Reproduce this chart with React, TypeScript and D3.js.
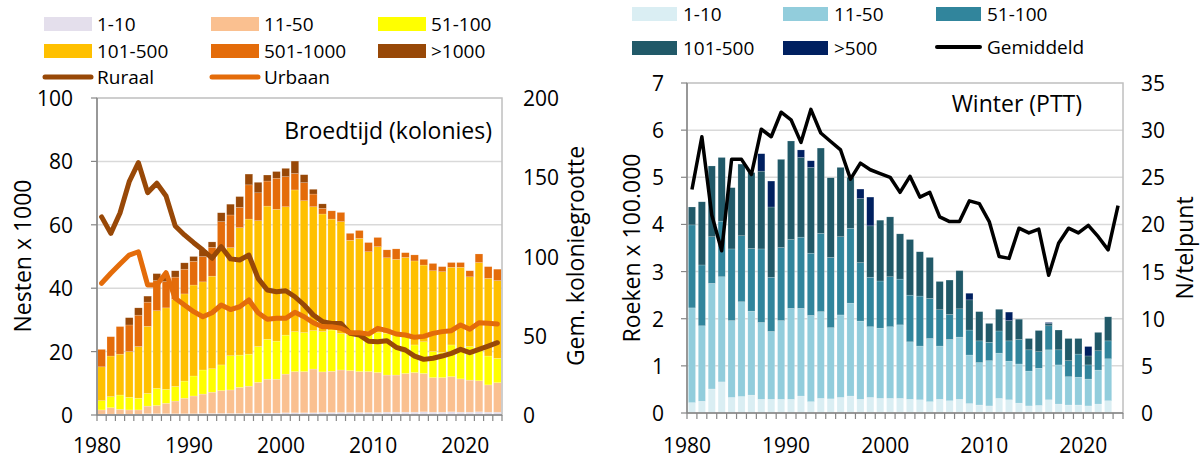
import React from 'react';
import * as d3 from 'd3';

const years = d3.range(1980, 2024);

// Broedtijd: nesten x 1000 per kolonieklasse
const br1_10 = [0.3, 0.3, 0.3, 0.3, 0.3, 0.4, 0.4, 0.4, 0.4, 0.4, 0.4, 0.5, 0.5, 0.5, 0.5, 0.5, 0.6, 0.6, 0.6, 0.6, 0.7, 0.7, 0.7, 0.7, 0.8, 0.8, 0.8, 0.8, 0.8, 0.8, 0.8, 0.9, 0.9, 0.9, 0.9, 1.0, 0.9, 0.9, 1.0, 0.9, 0.9, 1.0, 0.9, 0.9];
const br11_50 = [1.3, 2.0, 1.5, 1.3, 1.3, 2.4, 2.6, 3.3, 4.0, 4.9, 5.6, 6.1, 6.7, 7.2, 7.4, 8.2, 8.5, 9.7, 10.7, 10.7, 12.2, 13.0, 13.0, 13.8, 12.8, 13.0, 13.4, 13.2, 12.9, 12.9, 12.6, 11.7, 11.7, 12.2, 12.5, 12.1, 10.9, 10.9, 11.1, 10.5, 10.1, 9.8, 8.6, 9.3];
const br51_100 = [2.9, 3.5, 4.5, 4.0, 3.7, 4.0, 5.4, 4.4, 4.6, 5.4, 6.3, 7.6, 7.4, 8.1, 10.8, 10.2, 10.1, 11.3, 12.6, 12.0, 12.3, 12.6, 12.3, 12.1, 12.7, 13.0, 11.5, 11.5, 11.8, 12.6, 12.6, 13.2, 13.0, 11.6, 8.7, 10.0, 8.2, 7.9, 10.0, 9.6, 10.6, 9.9, 9.1, 7.7];
const br101_500 = [10.7, 12.8, 12.9, 14.4, 16.3, 21.2, 24.5, 25.7, 27.5, 27.5, 28.7, 27.8, 29.2, 36.7, 34.1, 40.2, 42.6, 39.7, 42.0, 41.6, 40.5, 44.7, 41.6, 39.1, 37.1, 35.0, 35.3, 29.6, 30.2, 25.2, 27.1, 23.8, 23.5, 25.0, 26.5, 24.2, 25.5, 25.5, 24.5, 25.6, 22.0, 27.4, 24.5, 24.5];
const br501_1000 = [5.5, 6.1, 8.7, 8.4, 9.9, 7.6, 9.5, 8.3, 7.0, 7.8, 7.5, 8.0, 9.1, 8.5, 10.3, 6.4, 10.8, 8.8, 7.9, 9.8, 9.5, 5.2, 5.7, 4.0, 1.8, 2.6, 2.9, 2.2, 2.5, 2.9, 2.9, 2.5, 3.3, 1.5, 1.9, 1.8, 2.3, 1.6, 1.5, 1.5, 1.9, 2.7, 3.7, 3.6];
const br1000 = [0, 0, 0, 2.3, 2.3, 1.9, 2.2, 1.7, 2.0, 2.0, 1.5, 2.0, 1.7, 2.8, 3.4, 3.4, 3.4, 3.3, 1.9, 2.1, 2.6, 3.9, 2.5, 1.5, 1.4, 0, 0, 0, 0, 0, 0, 0, 0, 0, 0, 0, 0, 0, 0, 0, 0, 0, 0, 0];
// gemiddelde koloniegrootte
const ruraal = [125, 114.6, 127.4, 147.2, 159.2, 140.3, 146.2, 138.2, 119.2, 113.6, 108.7, 104.1, 98.9, 106.2, 98.5, 97.8, 100.9, 86.2, 78.9, 77.8, 78.4, 74.6, 69.4, 63.1, 58.9, 57.8, 57.8, 51.5, 50.5, 46.5, 46.2, 46.9, 42.7, 41.0, 37.2, 35.1, 35.8, 37.2, 38.9, 41.4, 39.3, 41.4, 43.5, 45.6];
const urbaan = [83.1, 89.4, 95.3, 100.9, 103, 82, 82, 89.8, 73.6, 69.4, 65.2, 62, 64.5, 69.4, 66.5, 68.3, 72.6, 64.5, 60.4, 61, 61, 64.8, 62, 58.2, 55.7, 55.7, 54.7, 51.9, 51.9, 51.1, 54.7, 53.2, 51.1, 50.5, 49, 49.6, 51.5, 52.6, 53.2, 56.8, 54.1, 58.2, 57.9, 57.4];

// Winter (PTT): roeken x 100.000 per groepsgrootte (t/m 2022)
const w1_10 = [0.22, 0.25, 0.51, 0.66, 0.33, 0.35, 0.38, 0.29, 0.29, 0.29, 0.29, 0.36, 0.24, 0.31, 0.30, 0.33, 0.36, 0.29, 0.33, 0.31, 0.31, 0.31, 0.29, 0.28, 0.24, 0.29, 0.26, 0.29, 0.20, 0.17, 0.15, 0.31, 0.28, 0.21, 0.15, 0.16, 0.28, 0.19, 0.17, 0.17, 0.15, 0.19, 0.26];
const w11_50 = [2.01, 1.60, 2.24, 2.23, 1.63, 2.01, 1.78, 1.63, 1.44, 1.67, 1.93, 1.86, 1.83, 1.84, 1.51, 1.75, 1.97, 1.66, 1.50, 1.49, 1.52, 1.56, 1.22, 1.14, 1.34, 1.13, 1.30, 1.32, 1.03, 0.90, 0.96, 0.96, 0.82, 0.83, 0.74, 0.79, 1.06, 0.83, 0.60, 0.59, 0.57, 0.72, 0.89];
const w51_100 = [1.76, 1.29, 0.99, 1.18, 1.52, 1.40, 1.33, 1.56, 1.15, 1.55, 1.46, 1.51, 1.32, 1.66, 1.49, 1.66, 1.59, 1.24, 1.05, 1.00, 1.06, 0.97, 0.99, 1.06, 0.85, 0.77, 0.53, 0.60, 0.53, 0.46, 0.39, 0.47, 0.43, 0.52, 0.45, 0.35, 0.51, 0.32, 0.34, 0.49, 0.30, 0.41, 0.38];
const w101_500 = [0.38, 1.34, 1.50, 1.35, 1.30, 1.52, 1.61, 1.65, 1.49, 1.87, 2.09, 1.69, 1.82, 1.81, 1.69, 1.47, 1.08, 1.36, 1.09, 1.29, 1.27, 0.96, 1.18, 0.94, 0.87, 0.60, 0.73, 0.81, 0.64, 0.62, 0.40, 0.46, 0.43, 0.43, 0.24, 0.45, 0.05, 0.42, 0.47, 0.33, 0.19, 0.39, 0.51];
const w500 = [0, 0, 0, 0, 0, 0, 0, 0.37, 0.55, 0, 0, 0.16, 0.14, 0, 0, 0, 0, 0.20, 0.61, 0, 0, 0, 0, 0, 0, 0, 0, 0, 0.14, 0, 0, 0, 0.18, 0, 0, 0, 0.02, 0, 0, 0, 0.20, 0, 0];
const gemiddeld = [23.7, 29.3, 21.0, 17.2, 26.9, 26.9, 25.3, 30.1, 29.3, 31.9, 31.1, 28.7, 32.2, 29.7, 28.8, 27.9, 24.8, 26.5, 25.8, 25.4, 25.0, 23.4, 25.1, 22.9, 23.4, 20.8, 20.3, 20.3, 22.5, 22.2, 20.3, 16.6, 16.4, 19.6, 19.1, 19.5, 14.6, 18.0, 19.6, 19.1, 19.9, 18.7, 17.3, 22.0];

const keysL = ['1-10', '11-50', '51-100', '101-500', '501-1000', '>1000'];
const colorsL = ['#E4DFEC', '#FAC090', '#FFFF00', '#FFC000', '#E46C0A', '#984807'];
const keysR = ['1-10', '11-50', '51-100', '101-500', '>500'];
const colorsR = ['#DAEEF3', '#92CDDC', '#31859C', '#215968', '#002060'];

const FONT = '"Open Sans", sans-serif';
const FS = 21;      // tick labels
const FS_LEG = 19;  // legend
const FS_AX = 23;   // axis titles
const FS_TTL = 23;  // panel titles
const GRID = '#D9D9D9';
const FRAME = '#BFBFBF';
const AXIS = '#868686';

export default function App() {
  // ---- left panel
  const xL = d3.scaleBand<number>().domain(years).range([97, 502]).paddingInner(0.17).paddingOuter(0.085);
  const yL = d3.scaleLinear().domain([0, 100]).range([415, 98]);
  const yL2 = d3.scaleLinear().domain([0, 200]).range([415, 98]);
  const rowsL = years.map((yr, i) => ({
    year: yr, '1-10': br1_10[i], '11-50': br11_50[i], '51-100': br51_100[i],
    '101-500': br101_500[i], '501-1000': br501_1000[i], '>1000': br1000[i],
  }));
  const stackL = d3.stack<any>().keys(keysL)(rowsL);
  const lineL = d3.line<number>()
    .x((d, i) => xL(years[i])! + xL.bandwidth() / 2)
    .y(d => yL2(d));

  // ---- right panel
  const xR = d3.scaleBand<number>().domain(years).range([687, 1123]).paddingInner(0.28).paddingOuter(0.14);
  const yR = d3.scaleLinear().domain([0, 7]).range([413, 83]);
  const yR2 = d3.scaleLinear().domain([0, 35]).range([413, 83]);
  const rowsR = years.slice(0, w1_10.length).map((yr, i) => ({
    year: yr, '1-10': w1_10[i], '11-50': w11_50[i], '51-100': w51_100[i],
    '101-500': w101_500[i], '>500': w500[i],
  }));
  const stackR = d3.stack<any>().keys(keysR)(rowsR);
  const lineR = d3.line<number>()
    .x((d, i) => xR(years[i])! + xR.bandwidth() / 2)
    .y(d => yR2(d));

  const edge = (x: d3.ScaleBand<number>, yr: number) =>
    x(yr)! - (x.step() - x.bandwidth()) / 2;

  const bottomTicks = (x: d3.ScaleBand<number>, yb: number) => {
    const b = years.map(yr => edge(x, yr));
    b.push(b[b.length - 1] + x.step());
    return b.map((bx, i) => (
      <line key={i} x1={bx} x2={bx} y1={yb} y2={yb + 6} stroke={AXIS} strokeWidth={1.2} />
    ));
  };

  const yearLabels = (x: d3.ScaleBand<number>) =>
    years.filter(yr => yr % 10 === 0).map(yr => (
      <text key={yr} x={edge(x, yr)} y={453} textAnchor="middle">{yr}</text>
    ));

  return (
    <svg width={1203} height={459} style={{ position: 'absolute', left: 0, top: 0, background: '#fff' }}
      fontFamily={FONT} fontSize={FS} fill="#000">
      {/* ===== LEFT: Broedtijd ===== */}
      <g>
        {yL.ticks(5).filter(t => t > 0 && t < 100).map(t => (
          <line key={t} x1={97} x2={502} y1={yL(t)} y2={yL(t)} stroke={GRID} strokeWidth={1.5} />
        ))}
        {stackL.map((s, si) => (
          <g key={s.key} fill={colorsL[si]}>
            {s.map((d, i) => d[1] - d[0] > 0 ? (
              <rect key={i} x={xL(d.data.year)} y={yL(d[1])} width={xL.bandwidth()}
                height={yL(d[0]) - yL(d[1])} stroke="#fff" strokeOpacity={0.35} strokeWidth={0.5} />
            ) : null)}
          </g>
        ))}
        <path d={lineL(ruraal)!} fill="none" stroke="#984807" strokeWidth={5} strokeLinejoin="round" strokeLinecap="round" />
        <path d={lineL(urbaan)!} fill="none" stroke="#E46C0A" strokeWidth={5} strokeLinejoin="round" strokeLinecap="round" />
        <rect x={97} y={98} width={405} height={317} fill="none" stroke={FRAME} strokeWidth={1.5} />
        <line x1={97} x2={97} y1={98} y2={415} stroke={AXIS} strokeWidth={1.5} />
        <line x1={97} x2={502} y1={415} y2={415} stroke={AXIS} strokeWidth={1.5} />
        {yL.ticks(5).map(t => (
          <g key={t}>
            <line x1={91} x2={97} y1={yL(t)} y2={yL(t)} stroke={AXIS} strokeWidth={1.2} />
            <text x={73} y={yL(t)} textAnchor="end" dominantBaseline="central">{t}</text>
          </g>
        ))}
        {yL2.ticks(4).map(t => (
          <text key={t} x={523} y={yL2(t)} dominantBaseline="central">{t}</text>
        ))}
        {bottomTicks(xL, 415)}
        {yearLabels(xL)}
        <text x={492} y={139} textAnchor="end" fontSize={FS_TTL}>Broedtijd (kolonies)</text>
        <text transform={`translate(22,256) rotate(-90)`} textAnchor="middle" dominantBaseline="central" fontSize={FS_AX}>Nesten x 1000</text>
        <text transform={`translate(575,256) rotate(-90)`} textAnchor="middle" dominantBaseline="central" fontSize={FS_AX}>Gem. koloniegrootte</text>
        {/* legend */}
        <g fontSize={FS_LEG}>
          {keysL.map((k, i) => {
            const lx = [44, 211, 378][i % 3];
            const ly = [17, 44][Math.floor(i / 3)];
            return (
              <g key={k}>
                <rect x={lx} y={ly} width={48} height={14} fill={colorsL[i]} />
                <text x={lx + 53} y={ly + 7} dominantBaseline="central">{k}</text>
              </g>
            );
          })}
          <line x1={45} x2={91} y1={77} y2={77} stroke="#984807" strokeWidth={5} strokeLinecap="round" />
          <text x={97} y={77} dominantBaseline="central">Ruraal</text>
          <line x1={212} x2={258} y1={77} y2={77} stroke="#E46C0A" strokeWidth={5} strokeLinecap="round" />
          <text x={264} y={77} dominantBaseline="central">Urbaan</text>
        </g>
      </g>

      {/* ===== RIGHT: Winter ===== */}
      <g>
        {yR.ticks(7).filter(t => t > 0 && t < 7).map(t => (
          <line key={t} x1={687} x2={1123} y1={yR(t)} y2={yR(t)} stroke={GRID} strokeWidth={1.5} />
        ))}
        {stackR.map((s, si) => (
          <g key={s.key} fill={colorsR[si]}>
            {s.map((d, i) => d[1] - d[0] > 0 ? (
              <rect key={i} x={xR(d.data.year)} y={yR(d[1])} width={xR.bandwidth()}
                height={yR(d[0]) - yR(d[1])} stroke="#fff" strokeOpacity={0.35} strokeWidth={0.5} />
            ) : null)}
          </g>
        ))}
        <path d={lineR(gemiddeld)!} fill="none" stroke="#000" strokeWidth={3.5} strokeLinejoin="round" />
        <rect x={687} y={83} width={436} height={330} fill="none" stroke={FRAME} strokeWidth={1.5} />
        <line x1={687} x2={687} y1={83} y2={413} stroke={AXIS} strokeWidth={1.5} />
        <line x1={687} x2={1123} y1={413} y2={413} stroke={AXIS} strokeWidth={1.5} />
        {yR.ticks(7).map(t => (
          <g key={t}>
            <line x1={681} x2={687} y1={yR(t)} y2={yR(t)} stroke={AXIS} strokeWidth={1.2} />
            <text x={664} y={yR(t)} textAnchor="end" dominantBaseline="central">{t}</text>
          </g>
        ))}
        {yR2.ticks(7).map(t => (
          <text key={t} x={1141} y={yR2(t)} dominantBaseline="central">{t}</text>
        ))}
        {bottomTicks(xR, 413)}
        {yearLabels(xR)}
        <text x={1082} y={112} textAnchor="end" fontSize={FS_TTL}>Winter (PTT)</text>
        <text transform={`translate(631,248) rotate(-90)`} textAnchor="middle" dominantBaseline="central" fontSize={FS_AX}>Roeken x 100.000</text>
        <text transform={`translate(1184,248) rotate(-90)`} textAnchor="middle" dominantBaseline="central" fontSize={FS_AX}>N/telpunt</text>
        <g fontSize={FS_LEG}>
          {keysR.map((k, i) => {
            const lx = [632, 783, 936][i % 3];
            const ly = [7, 41][Math.floor(i / 3)];
            return (
              <g key={k}>
                <rect x={lx} y={ly} width={45} height={14} fill={colorsR[i]} />
                <text x={lx + 51} y={ly + 7} dominantBaseline="central">{k}</text>
              </g>
            );
          })}
          <line x1={937} x2={980} y1={47} y2={47} stroke="#000" strokeWidth={4} strokeLinecap="round" />
          <text x={987} y={47} dominantBaseline="central">Gemiddeld</text>
        </g>
      </g>
    </svg>
  );
}
